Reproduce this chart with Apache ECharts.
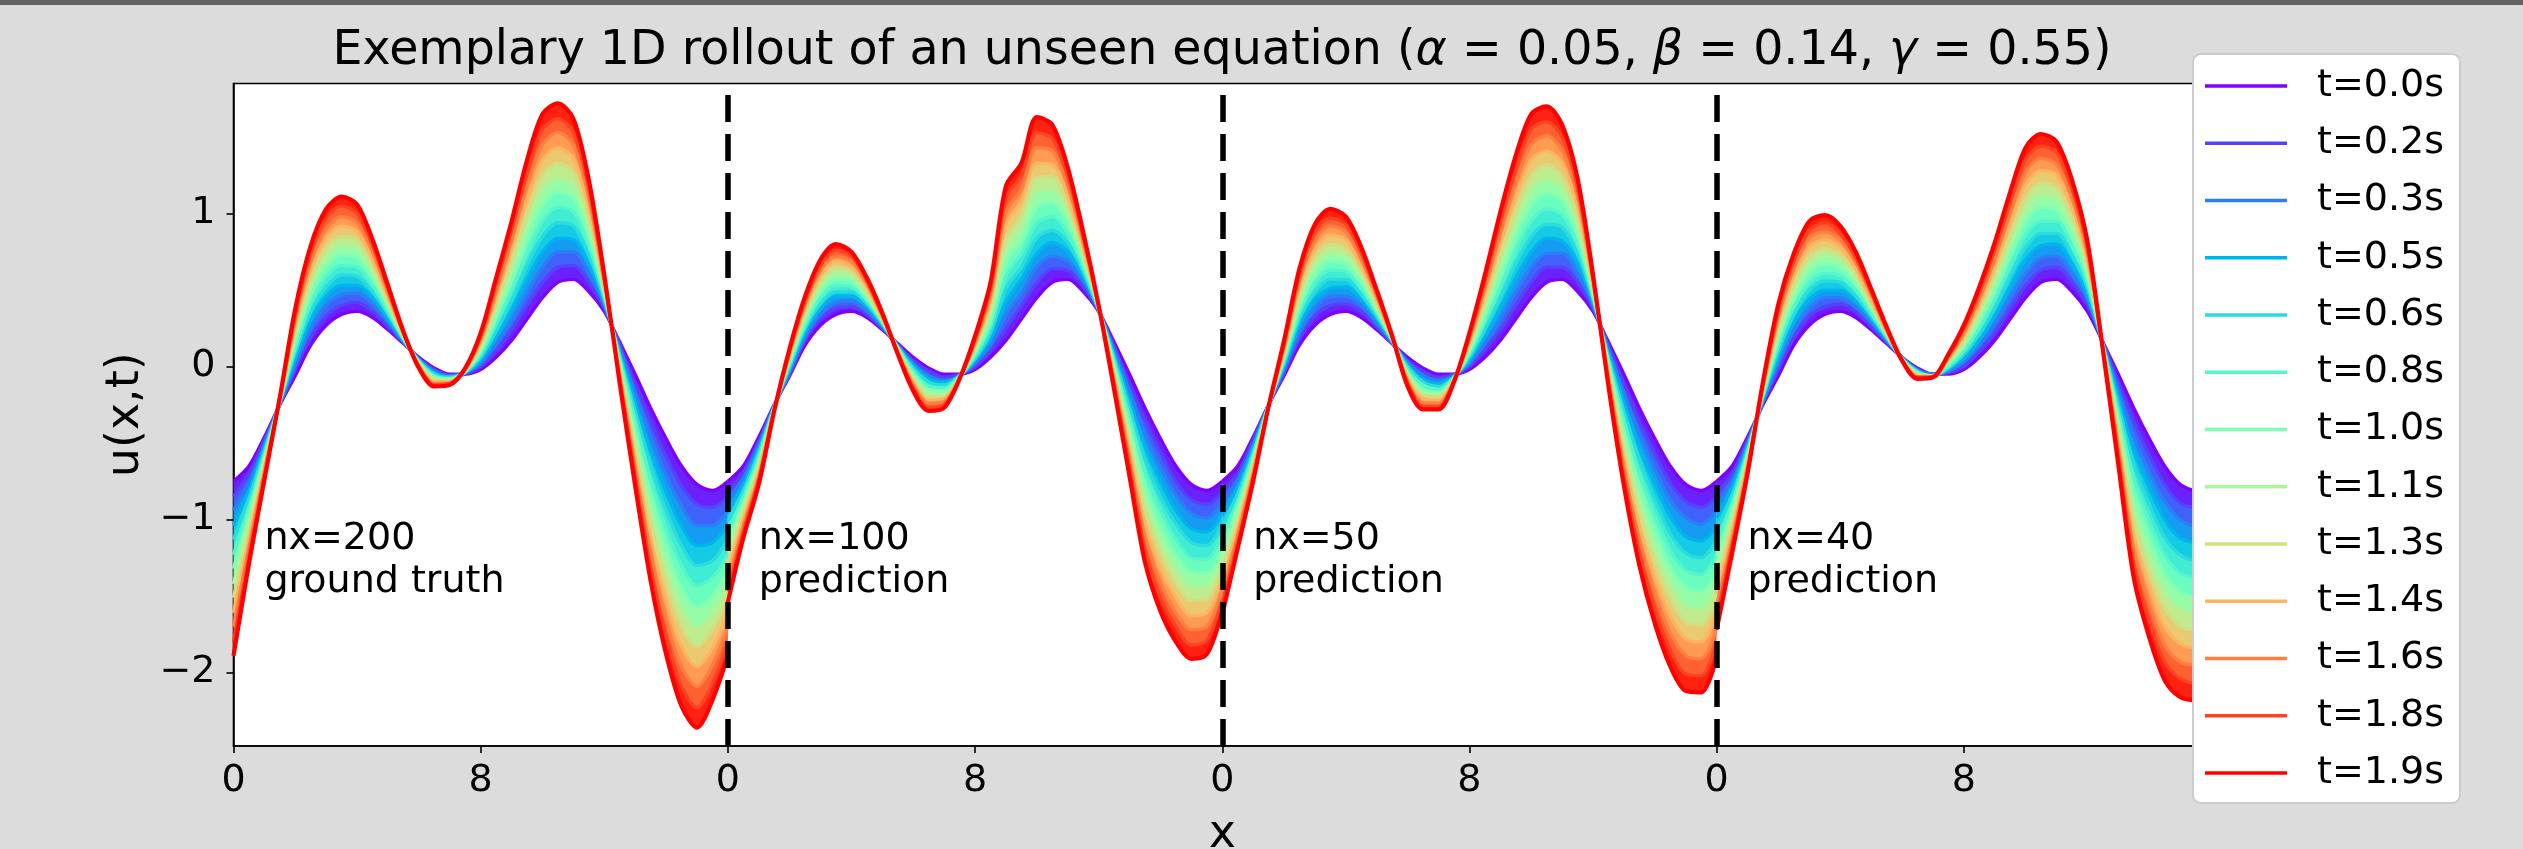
<!DOCTYPE html>
<html>
<head>
<meta charset="utf-8">
<script src="https://cdn.jsdelivr.net/npm/echarts@6/dist/echarts.min.js"></script>
<style>
html,body{margin:0;padding:0;background:#dcdcdc;}
#chart{width:2523px;height:849px;}
</style>
</head>
<body>
<div id="chart"></div>
<script>
// ---------------- data ----------------
const xs = [0,0.5,1,1.5,2,2.5,3,3.5,4,4.5,5,5.5,6,6.5,7,7.5,8,8.5,9,9.5,10,10.5,11,11.5,12,12.5,13,13.5,14,14.5,15,15.5,16];
const times = ['t=0.0s','t=0.2s','t=0.3s','t=0.5s','t=0.6s','t=0.8s','t=1.0s','t=1.1s','t=1.3s','t=1.4s','t=1.6s','t=1.8s','t=1.9s'];
const panelLabels = ['nx=200\nground truth','nx=100\nprediction','nx=50\nprediction','nx=40\nprediction'];
const xTickLabels = ['0','8'];
const yTickValues = [-2,-1,0,1];

// each row: u at one x position, for the 13 legend times (t=0.0s ... t=1.9s)
const nx200 = [
[-0.75,-0.85,-0.94,-1.04,-1.13,-1.23,-1.32,-1.42,-1.51,-1.61,-1.70,-1.80,-1.89],
[-0.65,-0.70,-0.76,-0.81,-0.86,-0.92,-0.97,-1.02,-1.08,-1.13,-1.18,-1.24,-1.29],
[-0.46,-0.48,-0.51,-0.53,-0.55,-0.58,-0.60,-0.62,-0.65,-0.67,-0.69,-0.72,-0.74],
[-0.25,-0.25,-0.24,-0.24,-0.23,-0.23,-0.23,-0.22,-0.22,-0.21,-0.21,-0.20,-0.20],
[-0.06,-0.02,0.01,0.05,0.09,0.12,0.16,0.20,0.23,0.27,0.31,0.34,0.38],
[0.14,0.19,0.25,0.30,0.36,0.41,0.47,0.52,0.57,0.63,0.68,0.74,0.79],
[0.27,0.33,0.40,0.46,0.52,0.59,0.65,0.71,0.78,0.84,0.90,0.97,1.03],
[0.34,0.40,0.47,0.53,0.60,0.66,0.73,0.79,0.85,0.92,0.98,1.05,1.11],
[0.36,0.42,0.48,0.53,0.59,0.65,0.71,0.77,0.83,0.88,0.94,1.00,1.06],
[0.32,0.36,0.41,0.45,0.49,0.53,0.58,0.62,0.66,0.70,0.75,0.79,0.83],
[0.24,0.26,0.29,0.31,0.34,0.36,0.39,0.41,0.43,0.46,0.48,0.51,0.53],
[0.15,0.16,0.16,0.17,0.18,0.18,0.19,0.20,0.20,0.21,0.22,0.22,0.23],
[0.06,0.05,0.05,0.04,0.04,0.03,0.03,0.02,0.01,0.01,0.00,0.00,-0.01],
[-0.01,-0.02,-0.03,-0.04,-0.05,-0.06,-0.07,-0.08,-0.09,-0.10,-0.11,-0.12,-0.13],
[-0.05,-0.06,-0.06,-0.07,-0.07,-0.08,-0.08,-0.09,-0.10,-0.10,-0.11,-0.11,-0.12],
[-0.05,-0.05,-0.04,-0.04,-0.04,-0.03,-0.03,-0.03,-0.02,-0.02,-0.02,-0.01,-0.01],
[-0.02,0.00,0.02,0.04,0.06,0.08,0.10,0.12,0.14,0.16,0.18,0.20,0.22],
[0.06,0.10,0.15,0.19,0.23,0.28,0.32,0.36,0.41,0.45,0.49,0.54,0.58],
[0.17,0.24,0.30,0.37,0.43,0.50,0.56,0.63,0.69,0.76,0.82,0.89,0.95],
[0.31,0.40,0.48,0.57,0.66,0.74,0.83,0.92,1.00,1.09,1.18,1.26,1.35],
[0.45,0.55,0.65,0.75,0.85,0.95,1.05,1.15,1.25,1.35,1.45,1.55,1.65],
[0.55,0.65,0.75,0.84,0.94,1.04,1.14,1.23,1.33,1.43,1.53,1.62,1.72],
[0.57,0.66,0.75,0.83,0.92,1.01,1.10,1.18,1.27,1.36,1.45,1.53,1.62],
[0.49,0.55,0.61,0.67,0.73,0.79,0.85,0.92,0.98,1.04,1.10,1.16,1.22],
[0.36,0.38,0.40,0.42,0.44,0.46,0.48,0.50,0.52,0.54,0.56,0.58,0.60],
[0.16,0.14,0.12,0.09,0.07,0.05,0.03,0.00,-0.02,-0.04,-0.07,-0.09,-0.11],
[-0.05,-0.11,-0.17,-0.23,-0.29,-0.35,-0.42,-0.48,-0.54,-0.60,-0.66,-0.72,-0.78],
[-0.27,-0.36,-0.46,-0.55,-0.65,-0.74,-0.84,-0.93,-1.02,-1.12,-1.21,-1.31,-1.40],
[-0.47,-0.59,-0.71,-0.82,-0.94,-1.06,-1.18,-1.29,-1.41,-1.53,-1.65,-1.76,-1.88],
[-0.65,-0.78,-0.91,-1.04,-1.17,-1.30,-1.44,-1.57,-1.70,-1.83,-1.96,-2.09,-2.22],
[-0.77,-0.90,-1.04,-1.17,-1.30,-1.43,-1.57,-1.70,-1.83,-1.96,-2.09,-2.23,-2.36],
[-0.81,-0.92,-1.04,-1.15,-1.27,-1.38,-1.50,-1.61,-1.72,-1.84,-1.95,-2.07,-2.18],
[-0.75,-0.85,-0.94,-1.04,-1.13,-1.23,-1.32,-1.42,-1.51,-1.61,-1.70,-1.80,-1.89]
];
const nx100 = [
[-0.75,-0.82,-0.88,-0.95,-1.01,-1.08,-1.14,-1.21,-1.28,-1.34,-1.41,-1.47,-1.54],
[-0.65,-0.69,-0.73,-0.77,-0.81,-0.85,-0.89,-0.92,-0.96,-1.00,-1.04,-1.08,-1.12],
[-0.46,-0.49,-0.51,-0.54,-0.56,-0.59,-0.62,-0.64,-0.67,-0.69,-0.72,-0.74,-0.77],
[-0.25,-0.25,-0.26,-0.26,-0.26,-0.27,-0.27,-0.27,-0.28,-0.28,-0.28,-0.29,-0.29],
[-0.06,-0.05,-0.03,-0.02,0.00,0.02,0.03,0.05,0.06,0.08,0.09,0.11,0.12],
[0.14,0.17,0.19,0.22,0.25,0.27,0.30,0.33,0.35,0.38,0.41,0.43,0.46],
[0.27,0.31,0.34,0.38,0.41,0.45,0.49,0.52,0.56,0.59,0.63,0.66,0.70],
[0.34,0.38,0.42,0.46,0.49,0.53,0.57,0.61,0.65,0.69,0.72,0.76,0.80],
[0.36,0.39,0.43,0.46,0.49,0.52,0.56,0.59,0.62,0.65,0.69,0.72,0.75],
[0.32,0.34,0.36,0.39,0.41,0.43,0.45,0.47,0.49,0.52,0.54,0.56,0.58],
[0.24,0.25,0.26,0.27,0.28,0.29,0.30,0.30,0.31,0.32,0.33,0.34,0.35],
[0.15,0.14,0.14,0.13,0.13,0.12,0.12,0.11,0.10,0.10,0.09,0.09,0.08],
[0.06,0.04,0.02,0.01,-0.01,-0.03,-0.05,-0.07,-0.09,-0.10,-0.12,-0.14,-0.16],
[-0.01,-0.03,-0.06,-0.08,-0.10,-0.13,-0.15,-0.17,-0.20,-0.22,-0.24,-0.27,-0.29],
[-0.05,-0.07,-0.09,-0.10,-0.12,-0.14,-0.16,-0.18,-0.20,-0.21,-0.23,-0.25,-0.27],
[-0.05,-0.05,-0.06,-0.06,-0.06,-0.06,-0.07,-0.07,-0.07,-0.07,-0.08,-0.08,-0.08],
[-0.02,0.00,0.02,0.04,0.05,0.07,0.09,0.11,0.13,0.14,0.16,0.18,0.20],
[0.06,0.10,0.14,0.18,0.22,0.26,0.30,0.35,0.39,0.43,0.47,0.51,0.55],
[0.17,0.25,0.34,0.42,0.51,0.59,0.68,0.76,0.84,0.93,1.01,1.10,1.18],
[0.31,0.40,0.48,0.57,0.65,0.74,0.82,0.91,0.99,1.08,1.16,1.25,1.33],
[0.45,0.55,0.65,0.74,0.84,0.94,1.04,1.14,1.24,1.33,1.43,1.53,1.63],
[0.55,0.64,0.72,0.81,0.89,0.98,1.07,1.15,1.24,1.32,1.41,1.49,1.58],
[0.57,0.63,0.69,0.75,0.81,0.87,0.94,1.00,1.06,1.12,1.18,1.24,1.30],
[0.49,0.52,0.56,0.59,0.62,0.65,0.69,0.72,0.75,0.78,0.82,0.85,0.88],
[0.36,0.36,0.37,0.37,0.37,0.38,0.38,0.38,0.39,0.39,0.39,0.40,0.40],
[0.16,0.13,0.11,0.08,0.06,0.03,0.01,-0.02,-0.05,-0.07,-0.10,-0.12,-0.15],
[-0.05,-0.11,-0.16,-0.22,-0.27,-0.33,-0.39,-0.44,-0.50,-0.55,-0.61,-0.66,-0.72],
[-0.27,-0.35,-0.44,-0.52,-0.61,-0.69,-0.78,-0.86,-0.94,-1.03,-1.11,-1.20,-1.28],
[-0.47,-0.56,-0.66,-0.75,-0.85,-0.94,-1.04,-1.13,-1.22,-1.32,-1.41,-1.51,-1.60],
[-0.65,-0.75,-0.84,-0.94,-1.03,-1.13,-1.23,-1.32,-1.42,-1.51,-1.61,-1.70,-1.80],
[-0.77,-0.87,-0.96,-1.06,-1.15,-1.25,-1.34,-1.44,-1.53,-1.63,-1.72,-1.82,-1.91],
[-0.81,-0.90,-0.99,-1.08,-1.17,-1.26,-1.35,-1.43,-1.52,-1.61,-1.70,-1.79,-1.88],
[-0.75,-0.82,-0.89,-0.96,-1.03,-1.10,-1.18,-1.25,-1.32,-1.39,-1.46,-1.53,-1.60]
];
const nx50 = [
[-0.75,-0.82,-0.90,-0.97,-1.04,-1.11,-1.19,-1.26,-1.33,-1.40,-1.48,-1.55,-1.62],
[-0.65,-0.70,-0.74,-0.79,-0.83,-0.88,-0.92,-0.97,-1.01,-1.06,-1.10,-1.15,-1.19],
[-0.46,-0.48,-0.51,-0.53,-0.56,-0.58,-0.61,-0.63,-0.65,-0.68,-0.70,-0.73,-0.75],
[-0.25,-0.25,-0.25,-0.25,-0.25,-0.25,-0.25,-0.26,-0.26,-0.26,-0.26,-0.26,-0.26],
[-0.06,-0.04,-0.02,0.00,0.02,0.04,0.06,0.07,0.09,0.11,0.13,0.15,0.17],
[0.14,0.18,0.22,0.27,0.31,0.35,0.39,0.43,0.47,0.52,0.56,0.60,0.64],
[0.27,0.33,0.38,0.44,0.49,0.55,0.60,0.66,0.71,0.77,0.82,0.88,0.93],
[0.34,0.40,0.46,0.51,0.57,0.63,0.69,0.74,0.80,0.86,0.92,0.97,1.03],
[0.36,0.41,0.46,0.52,0.57,0.62,0.67,0.72,0.77,0.83,0.88,0.93,0.98],
[0.32,0.36,0.40,0.44,0.47,0.51,0.55,0.59,0.63,0.66,0.70,0.74,0.78],
[0.24,0.26,0.28,0.31,0.33,0.35,0.37,0.39,0.41,0.44,0.46,0.48,0.50],
[0.15,0.15,0.16,0.16,0.17,0.17,0.18,0.18,0.18,0.19,0.19,0.20,0.20],
[0.06,0.04,0.03,0.01,0.00,-0.02,-0.04,-0.05,-0.07,-0.08,-0.10,-0.11,-0.13],
[-0.01,-0.03,-0.06,-0.08,-0.10,-0.12,-0.15,-0.17,-0.19,-0.21,-0.24,-0.26,-0.28],
[-0.05,-0.07,-0.09,-0.11,-0.13,-0.15,-0.17,-0.18,-0.20,-0.22,-0.24,-0.26,-0.28],
[-0.05,-0.05,-0.06,-0.06,-0.07,-0.07,-0.08,-0.08,-0.08,-0.09,-0.09,-0.10,-0.10],
[-0.02,0.00,0.02,0.04,0.06,0.08,0.10,0.12,0.14,0.16,0.18,0.20,0.22],
[0.06,0.11,0.15,0.20,0.24,0.29,0.33,0.38,0.42,0.47,0.51,0.56,0.60],
[0.17,0.24,0.31,0.38,0.45,0.52,0.59,0.66,0.73,0.80,0.87,0.94,1.01],
[0.31,0.40,0.49,0.58,0.67,0.76,0.85,0.93,1.02,1.11,1.20,1.29,1.38],
[0.45,0.55,0.65,0.75,0.85,0.95,1.05,1.15,1.25,1.35,1.45,1.55,1.65],
[0.55,0.65,0.74,0.84,0.93,1.03,1.13,1.22,1.32,1.41,1.51,1.60,1.70],
[0.57,0.65,0.74,0.82,0.91,0.99,1.08,1.16,1.24,1.33,1.41,1.50,1.58],
[0.49,0.55,0.61,0.68,0.74,0.80,0.86,0.92,0.98,1.05,1.11,1.17,1.23],
[0.36,0.38,0.40,0.42,0.44,0.46,0.48,0.50,0.52,0.54,0.56,0.58,0.60],
[0.16,0.14,0.11,0.09,0.06,0.04,0.02,-0.01,-0.03,-0.06,-0.08,-0.11,-0.13],
[-0.05,-0.11,-0.17,-0.23,-0.29,-0.35,-0.42,-0.48,-0.54,-0.60,-0.66,-0.72,-0.78],
[-0.27,-0.36,-0.44,-0.53,-0.61,-0.70,-0.78,-0.87,-0.96,-1.04,-1.13,-1.21,-1.30],
[-0.47,-0.57,-0.67,-0.77,-0.87,-0.97,-1.07,-1.18,-1.28,-1.38,-1.48,-1.58,-1.68],
[-0.65,-0.76,-0.87,-0.98,-1.09,-1.20,-1.31,-1.41,-1.52,-1.63,-1.74,-1.85,-1.96],
[-0.77,-0.88,-0.99,-1.11,-1.22,-1.33,-1.44,-1.56,-1.67,-1.78,-1.89,-2.01,-2.12],
[-0.81,-0.92,-1.03,-1.14,-1.25,-1.36,-1.47,-1.58,-1.69,-1.80,-1.91,-2.02,-2.13],
[-0.75,-0.85,-0.94,-1.04,-1.13,-1.23,-1.33,-1.42,-1.52,-1.61,-1.71,-1.80,-1.90]
];
const nx40 = [
[-0.75,-0.83,-0.91,-0.99,-1.07,-1.15,-1.24,-1.32,-1.40,-1.48,-1.56,-1.64,-1.72],
[-0.65,-0.70,-0.75,-0.79,-0.84,-0.89,-0.94,-0.98,-1.03,-1.08,-1.13,-1.17,-1.22],
[-0.46,-0.48,-0.50,-0.52,-0.54,-0.56,-0.58,-0.60,-0.62,-0.64,-0.66,-0.68,-0.70],
[-0.25,-0.24,-0.23,-0.21,-0.20,-0.19,-0.18,-0.16,-0.15,-0.14,-0.13,-0.11,-0.10],
[-0.06,-0.02,0.02,0.06,0.10,0.14,0.18,0.21,0.25,0.29,0.33,0.37,0.41],
[0.14,0.19,0.24,0.29,0.34,0.39,0.44,0.49,0.54,0.59,0.64,0.69,0.74],
[0.27,0.33,0.38,0.44,0.50,0.55,0.61,0.67,0.72,0.78,0.84,0.89,0.95],
[0.34,0.39,0.45,0.50,0.56,0.61,0.67,0.72,0.77,0.83,0.88,0.94,0.99],
[0.36,0.41,0.45,0.50,0.55,0.59,0.64,0.69,0.73,0.78,0.83,0.87,0.92],
[0.32,0.36,0.39,0.43,0.46,0.50,0.54,0.57,0.61,0.64,0.68,0.71,0.75],
[0.24,0.26,0.29,0.31,0.33,0.35,0.38,0.40,0.42,0.44,0.47,0.49,0.51],
[0.15,0.16,0.17,0.18,0.19,0.20,0.21,0.21,0.22,0.23,0.24,0.25,0.26],
[0.06,0.06,0.06,0.06,0.05,0.05,0.05,0.05,0.05,0.04,0.04,0.04,0.04],
[-0.01,-0.02,-0.02,-0.03,-0.03,-0.04,-0.04,-0.05,-0.06,-0.06,-0.07,-0.07,-0.08],
[-0.05,-0.05,-0.05,-0.06,-0.06,-0.06,-0.06,-0.06,-0.06,-0.07,-0.07,-0.07,-0.07],
[-0.05,-0.04,-0.03,-0.02,-0.01,0.00,0.02,0.03,0.04,0.05,0.06,0.07,0.08],
[-0.02,0.00,0.03,0.05,0.08,0.10,0.13,0.15,0.17,0.20,0.22,0.25,0.27],
[0.06,0.10,0.14,0.17,0.21,0.25,0.29,0.33,0.37,0.40,0.44,0.48,0.52],
[0.17,0.22,0.28,0.33,0.38,0.44,0.49,0.54,0.60,0.65,0.70,0.76,0.81],
[0.31,0.38,0.45,0.52,0.59,0.66,0.73,0.79,0.86,0.93,1.00,1.07,1.14],
[0.45,0.53,0.61,0.70,0.78,0.86,0.94,1.02,1.10,1.19,1.27,1.35,1.43],
[0.55,0.63,0.71,0.79,0.87,0.95,1.04,1.12,1.20,1.28,1.36,1.44,1.52],
[0.57,0.65,0.72,0.80,0.87,0.95,1.02,1.10,1.17,1.25,1.32,1.40,1.47],
[0.49,0.55,0.61,0.67,0.73,0.79,0.85,0.92,0.98,1.04,1.10,1.16,1.22],
[0.36,0.40,0.44,0.47,0.51,0.55,0.59,0.63,0.67,0.70,0.74,0.78,0.82],
[0.16,0.16,0.15,0.15,0.14,0.14,0.14,0.13,0.13,0.12,0.12,0.11,0.11],
[-0.05,-0.10,-0.15,-0.20,-0.25,-0.30,-0.35,-0.39,-0.44,-0.49,-0.54,-0.59,-0.64],
[-0.27,-0.36,-0.46,-0.55,-0.64,-0.73,-0.83,-0.92,-1.01,-1.10,-1.19,-1.29,-1.38],
[-0.47,-0.58,-0.69,-0.79,-0.90,-1.01,-1.12,-1.23,-1.34,-1.44,-1.55,-1.66,-1.77],
[-0.65,-0.77,-0.88,-1.00,-1.12,-1.23,-1.35,-1.47,-1.58,-1.70,-1.82,-1.93,-2.05],
[-0.77,-0.89,-1.00,-1.12,-1.23,-1.35,-1.47,-1.58,-1.70,-1.81,-1.93,-2.04,-2.16],
[-0.81,-0.92,-1.04,-1.15,-1.27,-1.38,-1.50,-1.61,-1.72,-1.84,-1.95,-2.07,-2.18],
[-0.75,-0.85,-0.96,-1.06,-1.17,-1.27,-1.38,-1.48,-1.58,-1.69,-1.79,-1.90,-2.00]
];
const panels = [nx200, nx100, nx50, nx40];

// ---------------- styling / build ----------------
const FONT = 'DejaVu Sans';
const PANEL_WIDTH = 16;
const SMOOTH = 0.3;

function rainbow(f) { // matplotlib 'rainbow' colormap
  const r = Math.min(1, Math.abs(2 * f - 0.5));
  const g = Math.sin(Math.PI * f);
  const b = Math.cos(Math.PI * f / 2);
  const h = v => Math.round(Math.max(0, Math.min(1, v)) * 255);
  return 'rgb(' + h(r) + ',' + h(g) + ',' + h(b) + ')';
}
const nT = times.length;
const lineColors = times.map((_, k) => rainbow(k / (nT - 1)));
const fillColors = times.slice(1).map((_, k) => rainbow((k + 0.5) / (nT - 1)));

// category axis: all panels side by side
const step = xs.length - 1;
const cats = [];
panels.forEach((_, p) => xs.forEach((x, i) => {
  if (p > 0 && i === 0) return;
  cats.push(String(p * PANEL_WIDTH + x));
}));
function colData(p, fn) {
  const arr = new Array(cats.length).fill('-');
  xs.forEach((x, i) => { arr[p * step + i] = fn(i); });
  return arr;
}

const series = [];
// rainbow bands between consecutive time curves
panels.forEach((rows, p) => {
  for (let k = 0; k < nT - 1; k++) {
    const st = 'band_' + p + '_' + k;
    series.push({
      type: 'line', stack: st, stackStrategy: 'all', silent: true, z: 1,
      data: colData(p, i => rows[i][k]),
      symbol: 'none', smooth: SMOOTH,
      lineStyle: { width: 0, opacity: 0 }
    });
    series.push({
      type: 'line', stack: st, stackStrategy: 'all', silent: true, z: 1,
      data: colData(p, i => +(rows[i][k + 1] - rows[i][k]).toFixed(4)),
      symbol: 'none', smooth: SMOOTH,
      lineStyle: { width: 0, opacity: 0 },
      areaStyle: { color: fillColors[k], opacity: 1 }
    });
  }
});
// the time curves themselves (legend series)
times.forEach((name, k) => {
  panels.forEach((rows, p) => {
    series.push({
      type: 'line', name: name, silent: true, z: 2,
      data: colData(p, i => rows[i][k]),
      symbol: 'none', smooth: SMOOTH,
      color: lineColors[k],
      lineStyle: { width: k === nT - 1 ? 4.2 : 3.3, color: lineColors[k] }
    });
  });
});
// panel annotations + dashed panel separators
series.push({
  type: 'scatter', silent: true, z: 6,
  symbol: 'circle', symbolSize: 0,
  itemStyle: { color: '#000000' },
  data: panelLabels.map((t, p) => [String(p * PANEL_WIDTH + 1), -1.55]),
  label: {
    show: true, position: [0, 0], align: 'left', verticalAlign: 'bottom',
    formatter: prm => panelLabels[prm.dataIndex],
    fontFamily: FONT, fontSize: 38, lineHeight: 43, color: '#000000', opacity: 1
  },
  markLine: {
    silent: true, symbol: ['none', 'none'], label: { show: false },
    lineStyle: { color: '#000', width: 5.5, type: [27, 12], opacity: 1 },
    data: [1, 2, 3].map(p => ({ xAxis: String(p * PANEL_WIDTH) }))
  }
});

const chart = echarts.init(document.getElementById('chart'), null, { renderer: 'canvas' });
chart.setOption({
  animation: false,
  backgroundColor: '#dcdcdc',
  textStyle: { fontFamily: FONT },
  grid: {
    left: 233.5, right: 312, top: 83.5, bottom: 103,
    show: true, backgroundColor: '#ffffff', borderColor: '#000', borderWidth: 1.6,
    containLabel: false, outerBoundsMode: 'none'
  },
  xAxis: {
    type: 'category', data: cats, boundaryGap: false,
    axisLine: { show: true, onZero: false, lineStyle: { color: '#000', width: 1.6 } },
    axisTick: { show: true, length: 7, interval: (idx, v) => parseFloat(v) % 8 === 0,
      lineStyle: { color: '#000', width: 1.6 } },
    axisLabel: { interval: (idx, v) => parseFloat(v) % 8 === 0,
      formatter: v => (parseFloat(v) % PANEL_WIDTH === 0 ? xTickLabels[0] : xTickLabels[1]),
      fontFamily: FONT, fontSize: 38, color: '#000', margin: 16 },
    splitLine: { show: false },
    name: 'x', nameLocation: 'middle', nameGap: 66,
    nameTextStyle: { fontFamily: FONT, fontSize: 46, color: '#000' }
  },
  yAxis: {
    type: 'value', min: -2.48, max: 1.85,
    axisLine: { show: true, lineStyle: { color: '#000', width: 1.6 } },
    axisTick: { show: true, length: 7, customValues: yTickValues,
      lineStyle: { color: '#000', width: 1.6 } },
    axisLabel: { customValues: yTickValues,
      formatter: v => (v < 0 ? '\u2212' + Math.abs(v) : String(v)),
      fontFamily: FONT, fontSize: 38, color: '#000', margin: 18 },
    splitLine: { show: false },
    name: 'u(x,t)', nameLocation: 'middle', nameGap: 50,
    nameTextStyle: { fontFamily: FONT, fontSize: 46, color: '#000' }
  },
  legend: {
    data: times, orient: 'vertical', left: 2193, top: 54,
    padding: [10, 16, 8, 12], itemWidth: 82, itemHeight: 3.3, itemGap: 13.25,
    icon: 'rect', selectedMode: false,
    backgroundColor: '#ffffff', borderColor: '#cccccc', borderWidth: 2, borderRadius: 8,
    textStyle: { fontFamily: FONT, fontSize: 38, lineHeight: 44, color: '#000', padding: [0, 0, 0, 25] },
    z: 20
  },
  graphic: [
    { type: 'rect', left: 0, top: 0, shape: { width: 2523, height: 5 }, style: { fill: '#636363' }, silent: true },
    { type: 'text', x: 1222, y: 52, silent: true,
      style: {
        text: '{n|Exemplary 1D rollout of an unseen equation (}{i|\u03b1}{n| = 0.05, }{i|\u03b2}{n| = 0.14, }{i|\u03b3}{n| = 0.55)}',
        align: 'center', verticalAlign: 'middle',
        rich: {
          n: { fontFamily: FONT, fontSize: 47.5, fill: '#000' },
          i: { fontFamily: FONT, fontSize: 47.5, fontStyle: 'italic', fill: '#000' }
        }
      }
    }
  ],
  series: series
});
</script>
</body>
</html>
